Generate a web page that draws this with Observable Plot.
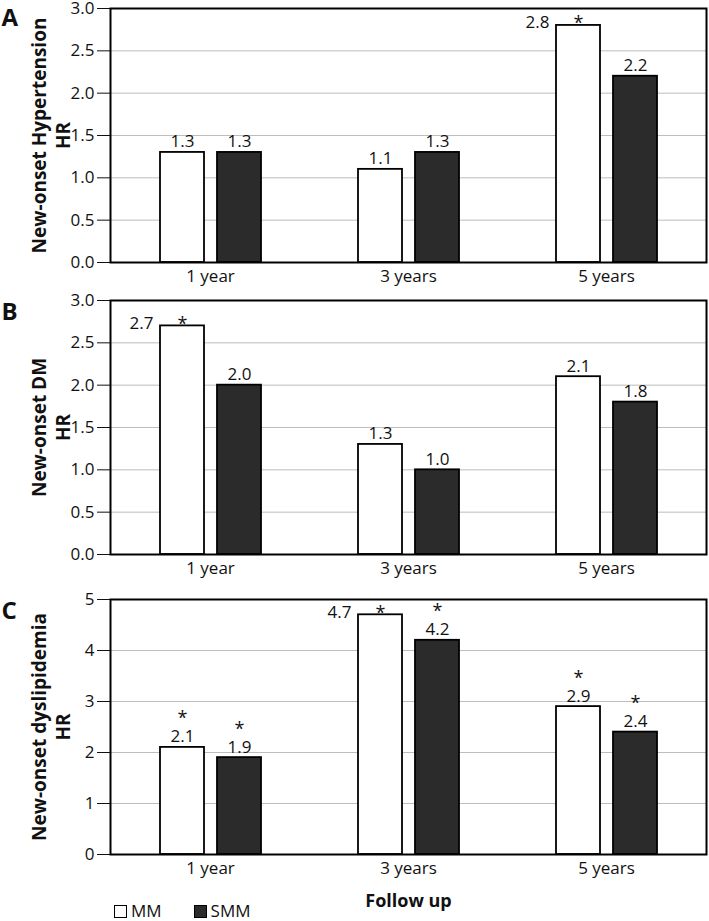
<!DOCTYPE html>
<html><head><meta charset="utf-8">
<script src="https://cdn.jsdelivr.net/npm/d3@7"></script>
<script src="https://cdn.jsdelivr.net/npm/@observablehq/plot@0.6"></script>
<style>
body{margin:0;background:#fff;font-family:"Open Sans",sans-serif;}
#chart{position:relative;width:709px;height:921px;overflow:hidden;}
#chart svg{display:block;}
.legend{position:absolute;left:114px;top:902px;display:flex;align-items:center;font-size:17px;color:#111;line-height:18px;height:18px;}
.sw{width:11px;height:11px;border:1.5px solid #000;display:inline-block;margin-right:4px;}
.item{display:flex;align-items:center;margin-right:32px;}
</style></head><body><div id="chart"></div>
<script>
const years = ["1 year", "3 years", "5 years"];
const seriesNames = ["MM", "SMM"];
const seriesFill = ["white", "#2b2b2b"];

const hypMM = [1.3, 1.1, 2.8];
const hypSMM = [1.3, 1.3, 2.2];
const dmMM = [2.7, 1.3, 2.1];
const dmSMM = [2.0, 1.0, 1.8];
const dysMM = [2.1, 4.7, 2.9];
const dysSMM = [1.9, 4.2, 2.4];

// significance: "" none, "side" = star over bar and value at its left, "top" = star above value
const hypMMStar = ["", "", "side"];
const hypSMMStar = ["", "", ""];
const dmMMStar = ["side", "", ""];
const dmSMMStar = ["", "", ""];
const dysMMStar = ["top", "side", "top"];
const dysSMMStar = ["top", "top", "top"];

const ticksAB = [0, 0.5, 1, 1.5, 2, 2.5, 3];
const ticksC = [0, 1, 2, 3, 4, 5];

const FONT = "Open Sans, sans-serif";
const fmtv = d3.format(".1f");

function panel(o) {
  const MM = years.map((yr, i) => ({year: yr, v: o.mm[i], star: o.mmStar[i]}));
  const SMM = years.map((yr, i) => ({year: yr, v: o.smm[i], star: o.smmStar[i]}));
  const marks = [
    Plot.gridY(o.ticks, {stroke: "#bdbdbd", strokeOpacity: 1, strokeWidth: 1}),
    Plot.barY(MM, {x: "year", y: "v", fill: seriesFill[0], stroke: "black", strokeWidth: 1.8, insetLeft: 49, insetRight: 105}),
    Plot.barY(SMM, {x: "year", y: "v", fill: seriesFill[1], stroke: "black", strokeWidth: 1.8, insetLeft: 106, insetRight: 48}),
    Plot.text(MM.filter(d => d.star !== "side"), {x: "year", y: "v", text: d => fmtv(d.v), dx: -28, dy: -5, lineAnchor: "bottom", fontSize: 17}),
    Plot.text(MM.filter(d => d.star === "side"), {x: "year", y: "v", text: d => fmtv(d.v), dx: -57, dy: 3, textAnchor: "end", lineAnchor: "bottom", fontSize: 17}),
    Plot.text(SMM, {x: "year", y: "v", text: d => fmtv(d.v), dx: 29, dy: -5, lineAnchor: "bottom", fontSize: 17}),
    Plot.text(MM.filter(d => d.star === "side"), {x: "year", y: "v", text: () => "*", dx: -28, dy: 4, lineAnchor: "bottom", fontSize: 18}),
    Plot.text(MM.filter(d => d.star === "top"), {x: "year", y: "v", text: () => "*", dx: -28, dy: -23, lineAnchor: "bottom", fontSize: 18}),
    Plot.text(SMM.filter(d => d.star === "top"), {x: "year", y: "v", text: () => "*", dx: 29, dy: -23, lineAnchor: "bottom", fontSize: 18}),
    Plot.frame({stroke: "black", strokeWidth: 2}),
    Plot.text([o.label], {frameAnchor: "left", text: d => d, rotate: -90, dx: -60, fontWeight: "bold", fontSize: 19, textAnchor: "middle", lineAnchor: "middle", lineHeight: 1.25}),
    Plot.text([o.letter], {frameAnchor: "top-left", text: d => d, dx: -109, dy: o.letterDy, fontWeight: "bold", fontSize: 24, textAnchor: "start", lineAnchor: "top"})
  ];
  if (o.xLabel) marks.push(Plot.text([o.xLabel], {frameAnchor: "bottom", text: d => d, dy: 47, fontWeight: "bold", fontSize: 18, lineAnchor: "middle"}));
  return Plot.plot({
    width: 709,
    height: o.height,
    marginTop: o.marginTop,
    marginBottom: o.marginBottom,
    marginLeft: 110,
    marginRight: 3,
    style: {fontFamily: FONT, fontSize: "17px", color: "#111", background: "white", overflow: "visible"},
    x: {domain: years, padding: 0, tickSize: 0, tickPadding: 7, label: null},
    y: {domain: [0, o.ymax], ticks: o.ticks, tickFormat: o.fmt, tickSize: 13, tickPadding: 3, label: null},
    marks
  });
}

const chart = document.getElementById("chart");
chart.append(panel({letter: "A", letterDy: 0, label: "New-onset Hypertension\nHR", mm: hypMM, smm: hypSMM, mmStar: hypMMStar, smmStar: hypSMMStar, ymax: 3, ticks: ticksAB, fmt: ".1f", height: 290, marginTop: 8, marginBottom: 28}));
chart.append(panel({letter: "B", letterDy: 2, label: "New-onset DM\nHR", mm: dmMM, smm: dmSMM, mmStar: dmMMStar, smmStar: dmSMMStar, ymax: 3, ticks: ticksAB, fmt: ".1f", height: 299, marginTop: 10, marginBottom: 35}));
chart.append(panel({letter: "C", letterDy: 2, label: "New-onset dyslipidemia\nHR", mm: dysMM, smm: dysSMM, mmStar: dysMMStar, smmStar: dysSMMStar, ymax: 5, ticks: ticksC, fmt: "d", height: 332, marginTop: 10, marginBottom: 67, xLabel: "Follow up"}));

const legend = document.createElement("div");
legend.className = "legend";
seriesNames.forEach((name, i) => {
  const item = document.createElement("span");
  item.className = "item";
  const sw = document.createElement("span");
  sw.className = "sw";
  sw.style.background = seriesFill[i];
  item.append(sw, document.createTextNode(name));
  legend.append(item);
});
chart.append(legend);
</script></body></html>
